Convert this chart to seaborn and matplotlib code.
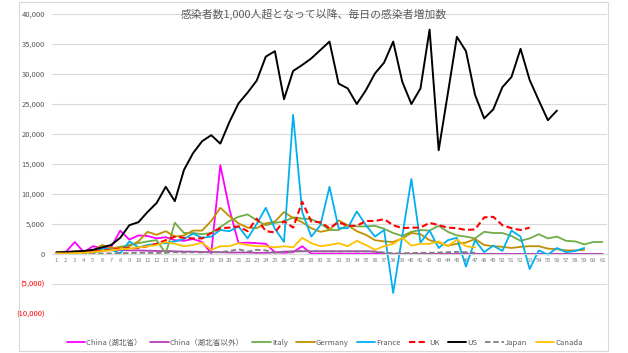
import numpy as np
import pandas as pd
import matplotlib
matplotlib.use("Agg")
import matplotlib.pyplot as plt
from matplotlib.patches import Rectangle
import seaborn as sns

# ---- data (daily new cases, days since cumulative cases exceeded 1,000) ----
days = list(range(1, 62))
title = "感染者数1,000人超となって以降、毎日の感染者増加数"

hubei = [300, 300, 2000, 300, 1300, 1000, 1100, 3900, 2400, 3100,
         3000, 2600, 2800, 2300, 2200, 2500, 2000, 100, 14800, 7500,
         1800, 1900, 1800, 1700, 300, 200, 300, 1300, 50, 50,
         30, 30, 30, 20, 20, 20, 10, 10, 10, 10,
         10, 10, 10, 10, 10, 10, 10, 10, 10, 10,
         10, 10, 10, 10, 10, 10, 10, 10, 10, 10, 10]
china_ex = [300, 400, 450, 500, 550, 600, 650, 650, 600, 600,
            550, 500, 500, 450, 400, 400, 350, 300, 300, 250,
            250, 250, 200, 200, 250, 400, 450, 450, 450, 450,
            450, 450, 450, 450, 450, 400, 50, 30, 20, 20,
            20, 20, 20, 20, 20, 20, 20, 20, 20, 20,
            20, 20, 20, 20, 20, 20, 20, 20, 20, 20, 20]
italy = [250, 250, 350, 450, 300, 600, 800, 1200, 1500, 1800,
         2100, 2300, 100, 5200, 3500, 3500, 3300, 3500, 4500, 5500,
         6200, 6600, 5600, 4800, 5200, 5400, 6100, 5900, 5800, 5100,
         4000, 4000, 4800, 4600, 4600, 4700, 4200, 3500, 3000, 3700,
         4000, 3900, 4700, 3700, 3100, 2900, 2600, 3700, 3500, 3500,
         3000, 2200, 2600, 3300, 2600, 2900, 2200, 2100, 1600, 2000, 2000]
germany = [200, 200, 250, 400, 500, 1500, 1000, 1100, 1300, 2100,
           3700, 3200, 3800, 2900, 3100, 3900, 3900, 5500, 7700, 6300,
           5100, 4400, 4300, 5100, 5400, 7000, 6000, 5300, 4300, 3700,
           4000, 5600, 4800, 3800, 3200, 2300, 2100, 2000, 2600, 3500,
           3300, 2300, 1900, 1400, 1700, 1900, 2500, 1500, 1300, 1200,
           1000, 1200, 1300, 1300, 900, 800, 600, 600, 700]
france = [200, 300, 300, 500, 0, 1000, 700, 100, 2100, 1100,
          1500, 1700, 1800, 2100, 2500, 3400, 2700, 2900, 4000, 3800,
          4600, 2600, 5000, 7700, 4200, 2000, 23200, 7000, 2900, 4800,
          11200, 4300, 4300, 7100, 4800, 2900, 4000, -6500, 3000, 12500,
          1900, 3900, 1000, 2300, 2700, -2100, 2300, 300, 1400, 500,
          3900, 2900, -2500, 600, -100, 1000, 300, 500, 1000]
uk = [200, 250, 300, 350, 400, 600, 700, 900, 1000, 1000,
      1300, 1700, 2300, 2900, 2700, 2600, 2600, 3500, 4300, 4400,
      4600, 3800, 5900, 3800, 3600, 5500, 4400, 8700, 5400, 5300,
      4300, 5300, 4700, 4700, 5500, 5500, 5800, 4800, 4300, 4400,
      4400, 5200, 4800, 4400, 4300, 4000, 4100, 6100, 6200, 4800,
      4300, 4000, 4400]
us = [250, 300, 400, 500, 700, 1100, 1500, 2700, 4800, 5300,
      7000, 8500, 11200, 8800, 14000, 16800, 18800, 19800, 18400, 22000,
      25100, 26900, 28900, 32900, 33800, 25800, 30500, 31500, 32600, 34000,
      35400, 28400, 27600, 25000, 27300, 30100, 31900, 35400, 28700, 25000,
      27600, 37400, 17300, 26700, 36200, 33800, 26500, 22600, 24100, 27800,
      29500, 34200, 29000, 25600, 22300, 23900]
japan = [50, 50, 50, 100, 100, 100, 100, 150, 150, 200,
         200, 150, 250, 300, 250, 300, 250, 300, 300, 500,
         800, 400, 700, 600, 250, 300, 400, 500, 500, 450,
         450, 400, 450, 400, 450, 400, 250, 100, 150, 150,
         200, 200, 250, 300, 350, 300, 200]
canada = [100, 100, 150, 200, 300, 500, 600, 800, 900, 1100,
          1300, 1500, 2000, 1700, 1300, 1500, 1900, 700, 1300, 1300,
          1800, 1500, 1300, 1300, 1100, 1300, 1100, 2700, 1800, 1300,
          1500, 1800, 1300, 2200, 1500, 700, 1300, 1700, 2700, 1400,
          1700, 1700, 2100, 1300, 2400, 1300, 1100]

series_names = ["China (湖北省）", "China（湖北省以外）", "Italy", "Germany",
                "France", "UK", "US", "Japan", "Canada"]
series_values = [hubei, china_ex, italy, germany, france, uk, us, japan, canada]
series_colors = ["#FF00FF", "#B83DBA", "#70AD47", "#BF9000", "#00B0F0",
                 "#FF0000", "#000000", "#7F7F7F", "#FFC000"]
series_dash = [None, None, None, None, None, (3, 1.6), None, (3, 1.6), None]
series_lw = [1.3, 1.3, 1.3, 1.3, 1.3, 1.5, 1.4, 1.3, 1.3]

yticks = list(range(-10000, 40001, 5000))

# ---- figure ----
sns.set_theme(style="white")
plt.rcParams['font.family'] = ['Noto Sans CJK JP', 'DejaVu Sans']

W, H = 628, 353
fig = plt.figure(figsize=(W / 100, H / 100), dpi=100)
ax = fig.add_axes([52 / W, 1 - 314 / H, (607 - 52) / W, (314 - 14) / H])

for name, vals, col, dash, lw in zip(series_names, series_values, series_colors,
                                     series_dash, series_lw):
    df = pd.DataFrame({"day": days[:len(vals)], "value": vals})
    sns.lineplot(data=df, x="day", y="value", ax=ax, color=col, lw=lw,
                 label=name, sort=False, estimator=None)
    if dash is not None:
        ax.lines[-1].set_dashes(dash)

for s in ["top", "right", "left"]:
    ax.spines[s].set_visible(False)
ax.spines["bottom"].set_position(("data", 0))
ax.spines["bottom"].set_color("#D9D9D9")
ax.spines["bottom"].set_linewidth(0.8)
ax.set_xlabel("")
ax.set_ylabel("")

ax.set_xlim(0.5, 61.5)
ax.set_ylim(-10000, 40000)
ax.set_yticks(yticks)
ylabels = [f"({abs(v):,})" if v < 0 else f"{v:,}" for v in yticks]
ax.set_yticklabels(ylabels)
for lab, v in zip(ax.get_yticklabels(), yticks):
    lab.set_color("#FF0000" if v < 0 else "#595959")
    lab.set_fontsize(5.5)
ax.set_xticks(days)
ax.set_xticklabels([str(d) for d in days], fontsize=4.2, color="#808080")
ax.tick_params(axis="both", length=0)
ax.tick_params(axis="x", pad=3)
ax.tick_params(axis="y", pad=5)

ax.grid(axis="y", color="#D9D9D9", lw=0.8)
ax.grid(axis="x", visible=False)
ax.set_axisbelow(True)

handles, labels = ax.get_legend_handles_labels()
ax.get_legend().remove()
leg = fig.legend(handles, labels, loc="center", bbox_to_anchor=(0.517, 1 - 343 / H),
                 ncol=9, frameon=False, fontsize=5.5, handlelength=2.4,
                 handletextpad=0.15, columnspacing=1.1)
for t in leg.get_texts():
    t.set_color("#595959")

fig.text(0.5, 1 - 14 / H, title, ha="center", va="center", fontsize=7.8,
         color="#595959")

fig.patches.append(Rectangle((19 / W, 1 - 351 / H), (608 - 19) / W, (351 - 2) / H,
                             transform=fig.transFigure, fill=False,
                             edgecolor="#D9D9D9", lw=0.8))

fig.savefig("out.png", dpi=100)
